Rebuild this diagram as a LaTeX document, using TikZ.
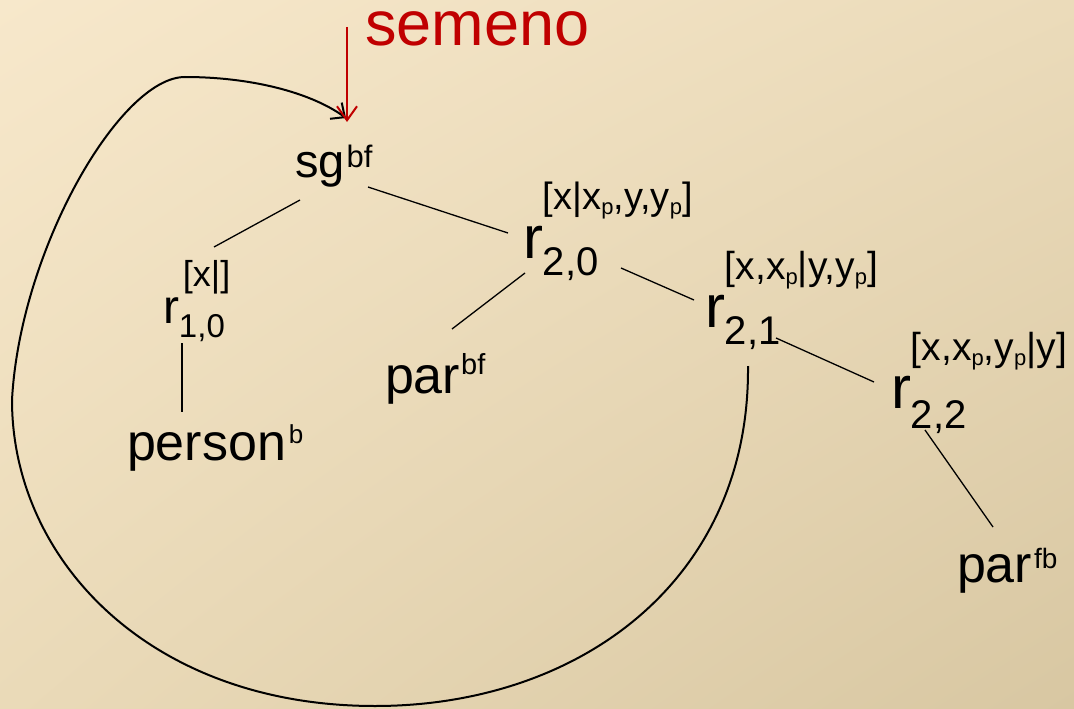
\documentclass[tikz,border=0pt]{standalone}
\usepackage{graphicx}
\usepackage{fontspec}
\setmainfont{Liberation Sans}
\usetikzlibrary{arrows.meta,shadings}
\newcommand{\fsz}[1]{\fontsize{#1}{#1}\selectfont}
\newcommand{\pp}{\raisebox{-5pt}{\fsz{22}p}}
\definecolor{semred}{HTML}{C00000}
\definecolor{bgUL}{HTML}{F7E8CB}
\definecolor{bgUR}{HTML}{EBDBBA}
\definecolor{bgLL}{HTML}{EADAB8}
\definecolor{bgLR}{HTML}{D8C7A2}
\begin{document}
\begin{tikzpicture}[x=1pt,y=-1pt,
  lbl/.style={anchor=base west,inner sep=0pt,outer sep=0pt},
  edge/.style={line width=1.3pt,black},
  loopline/.style={line width=2pt,black,-{Straight Barb[length=11pt,width=20pt]}},
  redarrow/.style={line width=2pt,semred,-{Straight Barb[length=14pt,width=20pt]}}]
\useasboundingbox (0,0) rectangle (1074,709);
\shade[upper left=bgUL,upper right=bgUR,lower left=bgLL,lower right=bgLR] (0,0) rectangle (1074,709);

% nodes
\node[lbl,text=semred,text height=34pt,text depth=0pt] (semeno) at (365,46) {\fsz{63}semeno};
\node[lbl] (sg) at (295,177) {\fsz{47}sg\kern2pt\raisebox{10pt}{\fsz{31}bf}};
\node[lbl] (r10) at (163,323) {\fsz{48}r\rlap{\kern4pt\raisebox{37pt}{\fsz{36}[x|]}}\raisebox{-14pt}{\fsz{33}1,0}};
\node[lbl] (r20) at (523,258) {\fsz{60}r\rlap{\raisebox{49pt}{\fsz{38}[x|x\pp,y,y\pp]}}\raisebox{-17pt}{\fsz{40}2,0}};
\node[lbl] (r21) at (705,327) {\fsz{60}r\rlap{\raisebox{48pt}{\fsz{39}[x,x\pp|y,y\pp]}}\raisebox{-17pt}{\fsz{40}2,1}};
\node[lbl] (r22) at (891,408) {\fsz{60}r\rlap{\raisebox{48pt}{\fsz{39}[x,x\pp,y\pp|y]}}\raisebox{-20pt}{\fsz{40}2,2}};
\node[lbl] (parbf) at (385,393) {\fsz{52}par\kern1pt\raisebox{19pt}{\fsz{29}bf}};
\node[lbl] (person) at (127,460) {\fsz{52}person\kern3pt\raisebox{17pt}{\fsz{26}b}};
\node[lbl] (parfb) at (957,582) {\fsz{52}par\kern2pt\raisebox{14pt}{\fsz{28}fb}};

% connector end points
\coordinate (sg-l) at (300,200);
\coordinate (r10-t) at (214,247);
\coordinate (sg-r) at (368,187);
\coordinate (r20-l) at (508,233);
\coordinate (r10-b) at (182,343);
\coordinate (person-t) at (182,412);
\coordinate (r20-b) at (525,273);
\coordinate (parbf-t) at (452,329);
\coordinate (r20-r) at (621,268);
\coordinate (r21-l) at (694,300);
\coordinate (r21-r) at (776,338);
\coordinate (r22-l) at (874,382);
\coordinate (r22-b) at (925,430);
\coordinate (parfb-t) at (993,527);
\coordinate (r21-loop) at (748,366);
\coordinate (sg-in) at (346,118);
\coordinate (sem-from) at (347,27);
\coordinate (sg-top) at (347,122);

% tree edges
\draw[edge] (sg-l) -- (r10-t);
\draw[edge] (sg-r) -- (r20-l);
\draw[edge] (r10-b) -- (person-t);
\draw[edge] (r20-b) -- (parbf-t);
\draw[edge] (r20-r) -- (r21-l);
\draw[edge] (r21-r) -- (r22-l);
\draw[edge] (r22-b) -- (parfb-t);

% loop back to sg
\draw[loopline] (r21-loop) .. controls (750,580) and (580,706) .. (375,706)
  .. controls (150,706) and (12,560) .. (12,400)
  .. controls (20,250) and (120,77) .. (185,77)
  .. controls (250,77) and (310,92) .. (sg-in);

% red arrow
\draw[redarrow] (sem-from) -- (sg-top);
\end{tikzpicture}
\end{document}
